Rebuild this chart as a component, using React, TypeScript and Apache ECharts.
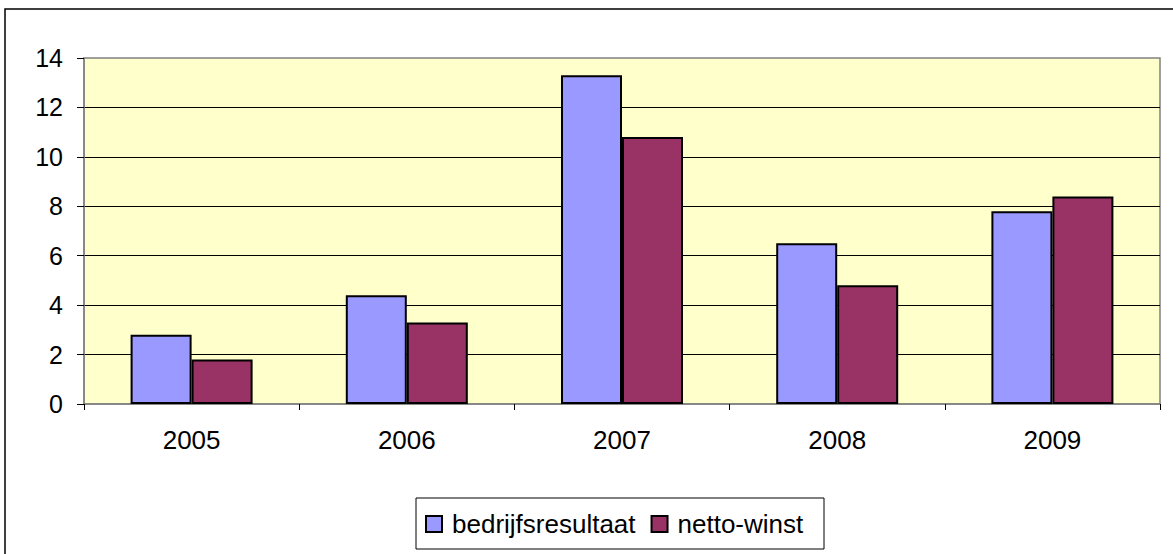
import React, { useEffect, useRef } from "react";
import * as echarts from "echarts";

const categories = ["2005", "2006", "2007", "2008", "2009"];
const bedrijfsresultaat = [2.8, 4.4, 13.3, 6.5, 7.8];
const nettoWinst = [1.8, 3.3, 10.8, 4.8, 8.4];
const seriesNames = ["bedrijfsresultaat", "netto-winst"];

const FONT = "'Liberation Sans', Arial, sans-serif";

export default function App() {
  const ref = useRef<HTMLDivElement>(null);
  useEffect(() => {
    document.body.style.margin = "0";
    const chart = echarts.init(ref.current!, null, { renderer: "svg" });
    chart.setOption({
      animation: false,
      backgroundColor: "#ffffff",
      textStyle: { fontFamily: FONT },
      graphic: [
        {
          type: "rect",
          shape: { x: 5, y: 9, width: 1200, height: 600 },
          style: { fill: "none", stroke: "#000", lineWidth: 1.5 },
          z: 100,
        },
        {
          type: "rect",
          shape: { x: 416, y: 498, width: 408, height: 51 },
          style: { fill: "#fff", stroke: "#000", lineWidth: 1 },
          z: 0,
        },
      ],
      legend: {
        left: 416,
        top: 498,
        padding: [13, 9, 13, 9],
        itemWidth: 16,
        itemHeight: 16,
        itemGap: 15,
        icon: "rect",
        itemStyle: { borderColor: "#000", borderWidth: 2 },
        textStyle: { fontSize: 26, color: "#000", fontFamily: FONT, padding: [0, 0, 0, 5] },
        data: seriesNames,
        z: 10,
      },
      grid: {
        left: 84,
        right: 13,
        top: 58,
        bottom: 150,
        show: true,
        backgroundColor: "#FFFFCC",
        borderColor: "#808080",
        borderWidth: 1.5,
      },
      xAxis: {
        type: "category",
        data: categories,
        axisLine: { lineStyle: { color: "#808080", width: 1.5 } },
        axisTick: { show: true, length: 6, lineStyle: { color: "#000" }, alignWithLabel: false },
        axisLabel: { fontSize: 26, color: "#000", margin: 23, fontFamily: FONT },
      },
      yAxis: {
        type: "value",
        min: 0,
        max: 14,
        interval: 2,
        axisLine: { show: true, lineStyle: { color: "#808080", width: 1.5 } },
        axisTick: { show: true, length: 7, lineStyle: { color: "#000" } },
        axisLabel: { fontSize: 25, color: "#000", margin: 21, fontFamily: FONT },
        splitLine: { show: true, showMinLine: false, showMaxLine: false, lineStyle: { color: "#000", width: 1 } },
      },
      series: [
        {
          name: seriesNames[0],
          type: "bar",
          data: bedrijfsresultaat,
          barWidth: 61,
          barGap: "0%",
          itemStyle: { color: "#9999FF", borderColor: "#000", borderWidth: 2 },
        },
        {
          name: seriesNames[1],
          type: "bar",
          data: nettoWinst,
          barWidth: 61,
          barGap: "0%",
          itemStyle: { color: "#993366", borderColor: "#000", borderWidth: 2 },
        },
      ],
    });
    return () => chart.dispose();
  }, []);
  return <div ref={ref} style={{ position: "absolute", left: 0, top: 0, width: 1173, height: 554 }} />;
}
